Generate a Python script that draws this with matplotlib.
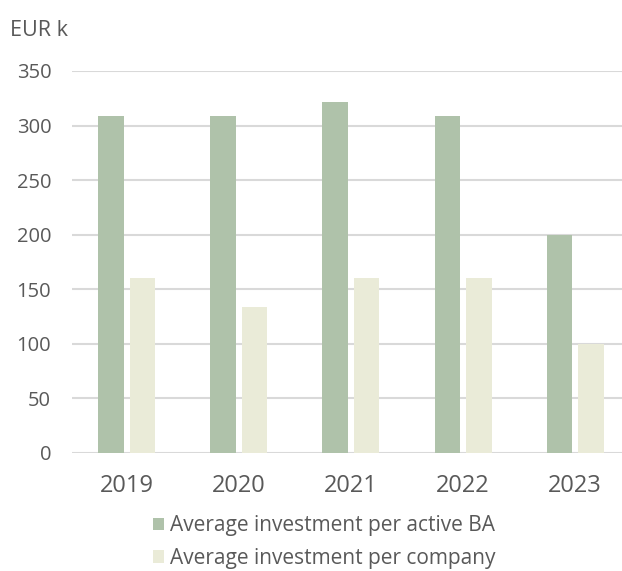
import matplotlib.pyplot as plt
import numpy as np
from matplotlib.patches import Patch

years = ["2019", "2020", "2021", "2022", "2023"]
per_active_ba = [309, 309, 322, 309, 200]
per_company = [160, 134, 160, 160, 100]
series_labels = ["Average investment per active BA", "Average investment per company"]
yticks = [0, 50, 100, 150, 200, 250, 300, 350]

green = "#AFC2AA"
beige = "#EAEBD8"
text_col = "#595959"
grid_col = "#D9D9D9"

plt.rcParams["font.family"] = ["Open Sans", "DejaVu Sans"]

fig = plt.figure(figsize=(6.22, 5.71), dpi=100)
ax = fig.add_axes([0.1158, 1 - 453 / 571, 0.8842, (453 - 71) / 571])

x = np.arange(len(years))
w = 0.228
off = 0.14
ax.bar(x - off, per_active_ba, width=w, color=green, zorder=3)
ax.bar(x + off, per_company, width=w, color=beige, zorder=3)

ax.set_xlim(-0.488, 4.418)
ax.set_ylim(0, 350)
ax.set_yticks(yticks)
ax.set_xticks(x)
ax.set_xticklabels(years)
ax.yaxis.grid(True, color=grid_col, linewidth=1.5, zorder=0)
ax.set_axisbelow(True)
for s in ax.spines.values():
    s.set_visible(False)
ax.tick_params(axis="both", length=0, colors=text_col)
ax.tick_params(axis="y", pad=15, labelsize=14.5)
ax.tick_params(axis="x", pad=15, labelsize=17)
for lbl in ax.get_yticklabels() + ax.get_xticklabels():
    lbl.set_color(text_col)

fig.text(10 / 622, 1 - 30 / 571, "EUR k", fontsize=15.5, color=text_col, va="center", ha="left")

handles = [Patch(facecolor=green, edgecolor="none"), Patch(facecolor=beige, edgecolor="none")]
fig.legend(handles, series_labels, loc="center", bbox_to_anchor=(324 / 622, 1 - 542 / 571),
           ncol=1, frameon=False, fontsize=15, labelcolor=text_col,
           handlelength=0.55, handleheight=0.55, handletextpad=0.25, labelspacing=0.55,
           borderaxespad=0, borderpad=0)

fig.savefig("out.png", dpi=100)
